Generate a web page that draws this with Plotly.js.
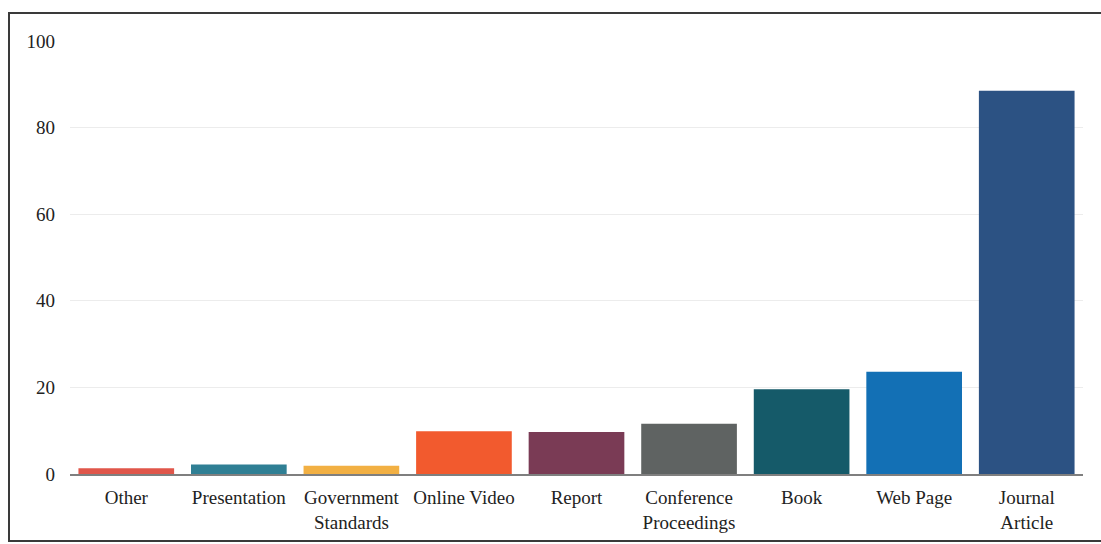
<!DOCTYPE html>
<html>
<head>
<meta charset="utf-8">
<script src="https://cdn.plot.ly/plotly-3.0.1.min.js"></script>
<style>
  html, body { margin: 0; padding: 0; background: #ffffff; }
  #frame { position: absolute; left: 8px; top: 12px; width: 1100px; height: 526px;
           border-left: 2px solid #3a3a3a; border-top: 2px solid #3a3a3a; border-bottom: 2px solid #3a3a3a; }
  #chart { position: absolute; left: 0; top: 0; width: 1101px; height: 544px; }
</style>
</head>
<body>
<div id="frame"></div>
<div id="chart"></div>
<script>
const categories = ["Other", "Presentation", "Government<br>Standards", "Online Video", "Report",
                    "Conference<br>Proceedings", "Book", "Web Page", "Journal<br>Article"];
const counts = [1.3, 2.2, 1.9, 9.9, 9.7, 11.6, 19.6, 23.6, 88.5];
const barColors = ["#e0564a", "#2f7f94", "#f2b043", "#f25a2e", "#7a3b55",
                   "#5f6362", "#155a69", "#1370b5", "#2c5283"];
const yTicks = [0, 20, 40, 60, 80, 100];

const trace = {
  type: "bar",
  x: categories,
  y: counts,
  marker: { color: barColors, line: { width: 0 } },
  hoverinfo: "x+y"
};

const layout = {
  width: 1101, height: 544,
  margin: { l: 70, r: 18, t: 41, b: 70 },
  paper_bgcolor: "rgba(0,0,0,0)",
  plot_bgcolor: "rgba(0,0,0,0)",
  bargap: 0.15,
  showlegend: false,
  font: { family: "Liberation Serif, Times New Roman, serif", size: 19, color: "#222222" },
  xaxis: {
    type: "category",
    showgrid: false,
    showline: true,
    linecolor: "#7f7f7f",
    linewidth: 1.5,
    ticks: "",
    ticklabelstandoff: 6,
    tickfont: { family: "Liberation Serif, serif", size: 19, color: "#222222" },
    zeroline: false
  },
  yaxis: {
    range: [0, 100],
    tickvals: yTicks,
    ticktext: yTicks.map(String),
    showgrid: true,
    gridcolor: "#ececec",
    gridwidth: 1,
    showline: false,
    zeroline: false,
    ticks: "",
    ticklabelstandoff: 14,
    tickfont: { family: "Liberation Serif, serif", size: 19, color: "#222222" }
  }
};

Plotly.newPlot("chart", [trace], layout, { displayModeBar: false, staticPlot: true });
</script>
</body>
</html>
